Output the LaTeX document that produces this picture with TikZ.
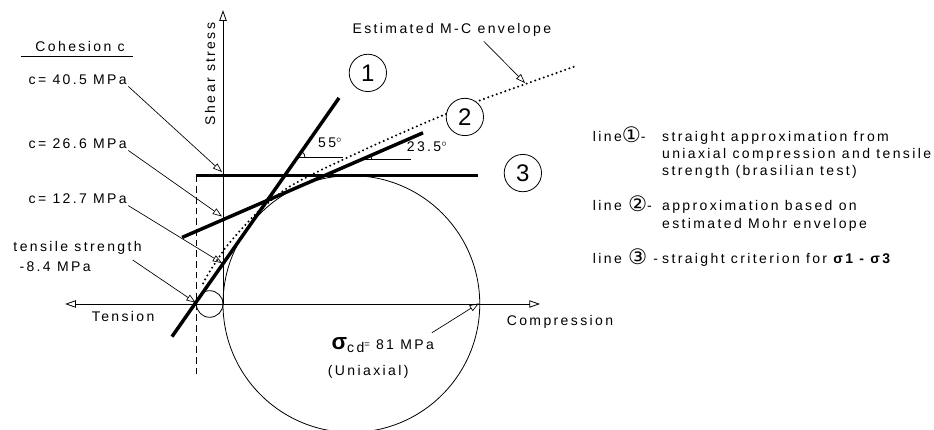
\documentclass[tikz,border=0pt]{standalone}
\usepackage{fontspec}
\setmainfont{Liberation Sans}[LetterSpace=17]
\newfontfamily\dejavu{DejaVu Sans}
\usetikzlibrary{arrows.meta}
\renewcommand{\arraystretch}{1.04}
\newcommand{\legnum}[1]{\smash{\dejavu\fontsize{16}{12}\selectfont\raisebox{-0.8pt}{#1}}}

\tikzset{
  crit/.style={line width=2.6pt},
  thinline/.style={line width=0.6pt},
  pointer/.style={line width=0.5pt,-{Triangle[open,length=7pt,width=5pt]}},
  axis/.style={line width=0.6pt,-{Triangle[open,length=8pt,width=5.5pt]}},
  lbl/.style={anchor=west,inner sep=1pt},
  num/.style={circle,draw,fill=white,line width=0.6pt,minimum size=28pt,inner sep=0pt,font=\fontsize{18}{18}\selectfont}
}

\begin{document}
\begin{tikzpicture}[x=2.3775pt,y=2.3775pt,font=\fontsize{10.5}{12.6}\selectfont]
  \useasboundingbox (-70.35,-39.75) rectangle (224.3,95.9);
  % axes
  \draw[thinline,{Triangle[open,length=8pt,width=5.5pt]}-{Triangle[open,length=8pt,width=5.5pt]}] (-49.8,0) -- (100,0);
  \draw[axis] (0,0) -- (0,92.7);
  % Mohr circles
  \draw[thinline] (40.5,0) circle[radius=40.5];
  \draw[thinline] (-4.2,0) circle[radius=4.2];
  \draw[thinline,dash pattern=on 5pt off 3pt] (-8.4,40.5) -- (-8.4,-23);
  % estimated envelope
  \draw[line width=1.7pt,dash pattern=on 0pt off 3.4pt,line cap=round] plot[smooth] coordinates
    {(-6.3,6.5) (-4.6,9.6) (-2,13.6) (1,18) (6,23.8) (12,30) (20,36.4) (28,40.8) (35,44.2)
     (49.5,50.9) (65,57.7) (81,64.2) (96,69.6) (111.7,75.2)};
  % criteria
  \draw[crit] (-8.4,40.5) -- (80.4,40.5);
  \draw[crit] (-16.1,-10.3) -- (36.6,65.0);
  \draw[crit] (-12.9,21.0) -- (63.1,54.0);
  % angles
  \draw[thinline] (23.4,46.1) -- (37.9,46.1);
  \draw[thinline] (25.9,46.1) arc[start angle=0,end angle=55,radius=2.5];
  \draw[thinline] (43.9,45.7) -- (59.2,45.7);
  \draw[thinline] (46.9,45.7) arc[start angle=0,end angle=23.5,radius=3];
  \node (a55) at (33.8,50.8) {55$^\circ$};
  \node (a235) at (64.4,49.5) {23.5$^\circ$};
  \node[num] (n1) at (45.7,72.9) {1};
  \node[num] (n2) at (76.3,59) {2};
  \node[num] (n3) at (94.6,41.3) {3};
  \node (est) at (72.2,86.4) {Estimated M-C envelope};
  \coordinate (envpt) at (95.3,69.7);
  \draw[pointer] ([xshift=-54pt]est.south east) -- (envpt);
  % axis labels
  \node[rotate=90] (shear) at (-4.1,72.6) {Shear stress};
  \node (tens) at (-31.5,-3.8) {Tension};
  \node (comp) at (106.3,-5.7) {Compression};
  % cohesion
  \node (coh) at (-45.1,81.1) {Cohesion c};
  \draw[thinline] ([xshift=-7pt]coh.south west) -- ([xshift=3pt]coh.south east);
  \foreach \n/\val/\ly/\ty in {a/40.5/70.7/41.6, b/26.6/50.5/27.6, c/12.7/33.1/12.9}{
    \coordinate (tip\n) at (-0.3,\ty);
    \node[lbl] (lab\n) at (-61.8,\ly) {c= \val{} MPa};
    \draw[pointer] (lab\n.south east) -- (tip\n);
  }
  \node[lbl] (ts) at (-66.6,17.7) {tensile strength};
  \node[lbl] (ts84) at (-64.7,11.7) {-8.4 MPa};
  \coordinate (tstip) at (-8.6,0.4);
  \draw[pointer] ([xshift=-8pt,yshift=-3pt]ts.south east) -- (tstip);
  % uniaxial strength
  \node[anchor=east] (scd) at (68,-12.9) {{\fontsize{17}{17}\selectfont\bfseries σ}\raisebox{-2pt}{cd}\raisebox{1.5pt}{\scriptsize =} 81 MPa};
  \node[anchor=east] (uni) at (60,-21.5) {(Uniaxial)};
  \coordinate (ucs) at (80.7,0.2);
  \draw[pointer] ([xshift=-5pt]scd.north east) -- (ucs);
  % legend
  \node[anchor=base west,inner sep=0pt] (legend) at (116.6,51.4) {%
    \begin{tabular}[t]{@{}l@{\hspace{0.5pt}}l@{}}
      line\legnum{①}- & straight approximation from\\
       & uniaxial compression and tensile\\
       & strength (brasilian test)\\[13pt]
      line \legnum{②}- & approximation based on\\
       & estimated Mohr envelope\\[13pt]
      line \legnum{③} -\hspace{2.5pt}\mbox{} & straight criterion for {\bfseries σ1 - σ3}
    \end{tabular}};
\end{tikzpicture}
\end{document}
